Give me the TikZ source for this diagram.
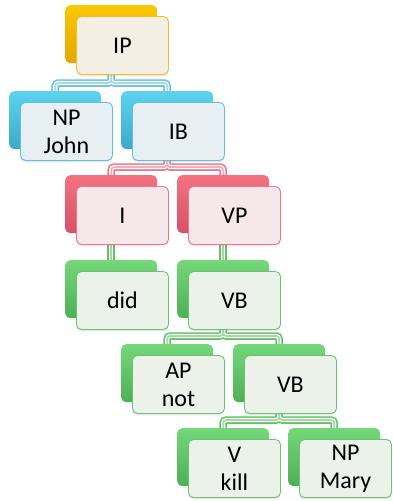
\documentclass[tikz,border=0pt]{standalone}
\usepackage{fontspec}
\setmainfont{Carlito}
\usetikzlibrary{backgrounds,shadows}

% palette
\definecolor{ylwTop}{HTML}{F8C800}\definecolor{ylwBot}{HTML}{E4A600}
\definecolor{ylwLine}{HTML}{F0C020}\definecolor{ylwFill}{HTML}{F3EFE5}
\definecolor{bluTop}{HTML}{5CD3F0}\definecolor{bluBot}{HTML}{3CA9C8}
\definecolor{bluLine}{HTML}{5EC2DC}\definecolor{bluFill}{HTML}{E7EFF2}
\definecolor{bluLink}{HTML}{6CC2DA}
\definecolor{redTop}{HTML}{F4717F}\definecolor{redBot}{HTML}{D8506A}
\definecolor{redLine}{HTML}{E8788C}\definecolor{redFill}{HTML}{F5E7EA}
\definecolor{redLink}{HTML}{EA7A8C}
\definecolor{grnTop}{HTML}{74D87A}\definecolor{grnBot}{HTML}{4DB055}
\definecolor{grnLine}{HTML}{6CC470}\definecolor{grnFill}{HTML}{EAF2EA}
\definecolor{grnLink}{HTML}{66C06A}

\tikzset{
  back/.style={rectangle, rounded corners=5pt, minimum width=92pt,
    minimum height=58pt, anchor=north west, inner sep=0pt},
  front/.style={back, line width=0.9pt, align=center,
    font=\fontsize{24}{28}\selectfont,
    drop shadow={shadow xshift=0pt, shadow yshift=-2pt, opacity=0.18}},
  ylwback/.style={back, top color=ylwTop, bottom color=ylwBot},
  bluback/.style={back, top color=bluTop, bottom color=bluBot},
  redback/.style={back, top color=redTop, bottom color=redBot},
  grnback/.style={back, top color=grnTop, bottom color=grnBot},
  ylwfront/.style={front, draw=ylwLine, fill=ylwFill},
  blufront/.style={front, draw=bluLine, fill=bluFill},
  redfront/.style={front, draw=redLine, fill=redFill},
  grnfront/.style={front, draw=grnLine, fill=grnFill},
  linkout/.style={line width=7.5pt, rounded corners=3pt},
  linkin/.style={line width=4.2pt, white, rounded corners=3pt},
  linkcore/.style={line width=1.8pt, rounded corners=3pt},
}

% a stacked box: coloured back plate with a lighter card offset on top
\newcommand\stackbox[5]{%
  \node[#4back] (#1b) at (#2,#3) {};
  \node[#4front] (#1) at (#2+11,#3+11) {#5};
}
% elbow links from a parent plate to two children
\newcommand\forklink[4]{%
  \draw[linkout,#1] (#2b.center) |- ([yshift=8pt]#3b.north) -- (#3b.center)
                    (#2b.center) |- ([yshift=8pt]#4b.north) -- (#4b.center);
  \draw[linkin] (#2b.center) |- ([yshift=8pt]#3b.north) -- (#3b.center)
                (#2b.center) |- ([yshift=8pt]#4b.north) -- (#4b.center);
  \draw[linkcore,#1!60] (#2b.center) |- ([yshift=8pt]#3b.north) -- (#3b.center)
                (#2b.center) |- ([yshift=8pt]#4b.north) -- (#4b.center);
}
% straight link from a parent plate to its only child
\newcommand\droplink[3]{%
  \draw[linkout,#1] (#2b.center) -- (#3b.center);
  \draw[linkin] (#2b.center) -- (#3b.center);
  \draw[linkcore,#1!60] (#2b.center) -- (#3b.center);
}

\begin{document}
\begin{tikzpicture}[x=1pt,y=-1pt]
  \useasboundingbox (0,0) rectangle (392,501);

  \stackbox{ip}{65}{5}{ylw}{IP}
  \stackbox{npj}{9}{91}{blu}{NP\\John}
  \stackbox{ib}{121}{91}{blu}{IB}
  \stackbox{i}{65}{175}{red}{I}
  \stackbox{vp}{177}{175}{red}{VP}
  \stackbox{did}{65}{260}{grn}{did}
  \stackbox{vba}{177}{260}{grn}{VB}
  \stackbox{ap}{121}{344}{grn}{AP\\not}
  \stackbox{vbb}{233}{344}{grn}{VB}
  \stackbox{v}{177}{428}{grn}{V\\kill}
  \stackbox{npm}{288}{428}{grn}{NP\\Mary}

  \begin{pgfonlayer}{background}
    \forklink{bluLink}{ip}{npj}{ib}
    \forklink{redLink}{ib}{i}{vp}
    \droplink{grnLink}{i}{did}
    \droplink{grnLink}{vp}{vba}
    \forklink{grnLink}{vba}{ap}{vbb}
    \forklink{grnLink}{vbb}{v}{npm}
  \end{pgfonlayer}
\end{tikzpicture}
\end{document}
